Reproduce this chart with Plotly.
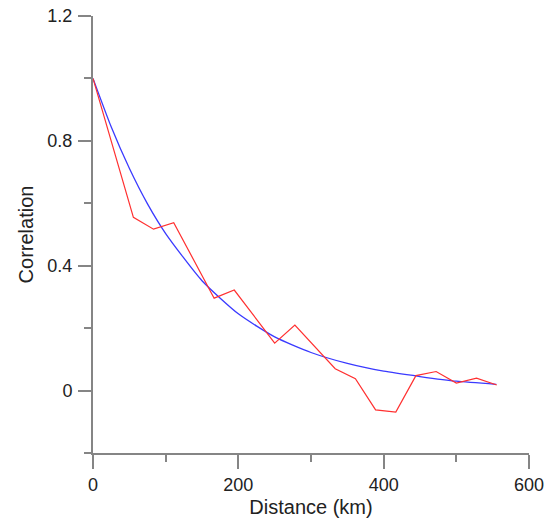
import plotly.graph_objects as go

# Empirical correlation (red)
dist_emp = [0, 55.6, 83.3, 111.1, 166.7, 194.4, 250.0, 277.8, 333.3, 361.1,
            388.9, 416.7, 444.4, 472.2, 500.0, 527.8, 555.6]
corr_emp = [1.0, 0.555, 0.517, 0.538, 0.296, 0.322, 0.152, 0.210, 0.070, 0.038,
            -0.062, -0.069, 0.048, 0.061, 0.024, 0.040, 0.018]

# Fitted correlation (blue)
dist_fit = [0, 25, 50, 75, 100, 150, 200, 250, 300, 350, 400, 450, 500, 555]
corr_fit = [1.0, 0.845, 0.712, 0.598, 0.503, 0.352, 0.246, 0.172, 0.122, 0.087,
            0.062, 0.045, 0.030, 0.020]

x_ticks = [0, 200, 400, 600]
y_ticks = [0, 0.4, 0.8, 1.2]
y_tick_text = ["0", "0.4", "0.8", "1.2"]

axis_col = "#858585"
text_col = "#222222"
font_fam = "Liberation Sans, Arial, sans-serif"

fig = go.Figure()
fig.add_trace(go.Scatter(x=dist_fit, y=corr_fit, mode="lines",
                         line=dict(color="#3a3aff", width=1.3, shape="spline", smoothing=0.6),
                         showlegend=False, hoverinfo="skip"))
fig.add_trace(go.Scatter(x=dist_emp, y=corr_emp, mode="lines",
                         line=dict(color="#ff3030", width=1.2),
                         showlegend=False, hoverinfo="skip"))

fig.update_layout(
    width=553, height=524,
    margin=dict(l=93, r=24, t=16, b=71, autoexpand=False),
    paper_bgcolor="white", plot_bgcolor="white",
    font=dict(family=font_fam, size=18, color=text_col),
    xaxis=dict(range=[0, 600], tickvals=x_ticks, ticktext=[str(v) for v in x_ticks],
               showgrid=False, zeroline=False, showline=True, linecolor=axis_col, linewidth=2,
               ticks="outside", ticklen=14, tickwidth=2, tickcolor=axis_col,
               minor=dict(dtick=100, tick0=0, ticks="outside", ticklen=7, tickwidth=2, tickcolor=axis_col, showgrid=False),
               title=dict(text="Distance (km)", font=dict(size=20, color=text_col), standoff=6),
               automargin=False, ticklabelstandoff=0, ticklabeloverflow="allow"),
    yaxis=dict(range=[-0.2, 1.2], tickvals=y_ticks, ticktext=y_tick_text,
               showgrid=False, zeroline=False, showline=True, linecolor=axis_col, linewidth=2,
               ticks="outside", ticklen=13, tickwidth=2, tickcolor=axis_col,
               minor=dict(dtick=0.2, tick0=0, ticks="outside", ticklen=7, tickwidth=2, tickcolor=axis_col, showgrid=False),
               title=dict(text="Correlation", font=dict(size=20, color=text_col), standoff=8),
               automargin=False, ticklabelstandoff=2, ticklabeloverflow="allow"),
)

# remove the default 8px page margin so the figure fills the window exactly
fig.write_html("out.html", config={"displayModeBar": False},
               post_script="document.body.style.margin='0';")
